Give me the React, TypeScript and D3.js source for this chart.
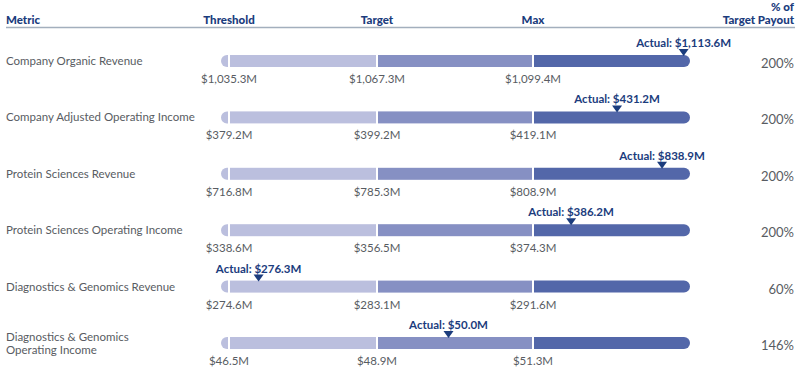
import React from "react";
import * as d3 from "d3";

// Goal rows, values in $M
const metrics = [
  ["Company Organic Revenue"],
  ["Company Adjusted Operating Income"],
  ["Protein Sciences Revenue"],
  ["Protein Sciences Operating Income"],
  ["Diagnostics & Genomics Revenue"],
  ["Diagnostics & Genomics", "Operating Income"],
];
const thresholds = [1035.3, 379.2, 716.8, 338.6, 274.6, 46.5];
const targets = [1067.3, 399.2, 785.3, 356.5, 283.1, 48.9];
const maxes = [1099.4, 419.1, 808.9, 374.3, 291.6, 51.3];
// value at the right end of each bar
const barEnds = [1114.2, 441.7, 845.4, 423.3, 300.1, 53.7];
const actuals = [1113.6, 431.2, 838.9, 386.2, 276.3, 50.0];
const payouts = ["200%", "200%", "200%", "200%", "60%", "146%"];
const columnHeads = ["Threshold", "Target", "Max"];

const W = 800;
const H = 368;
const FONT = "Lato, 'Open Sans', sans-serif";
const NAVY = "#1b3c7d";
const GRAY = "#585c62";
const LIGHT = "#bbbfde";
const MID = "#8690c3";
const DARK = "#5367a9";

export default function App() {
  const stops = [229, 377, 533, 690];
  const barH = 12;
  const r = barH / 2;

  const rowY = d3
    .scalePoint<number>()
    .domain(d3.range(metrics.length))
    .range([61, 343]);

  const money = (v: number) => "$" + d3.format(",.1f")(v) + "M";

  return (
    <div style={{ position: "absolute", left: 0, top: 0 }}>
      <svg width={W} height={H} style={{ display: "block", fontFamily: FONT }}>
        {/* header */}
        <text x={6} y={24} fill={NAVY} fontSize={11.5} fontWeight={900}>
          Metric
        </text>
        {columnHeads.map((h, i) => (
          <text key={h} x={stops[i]} y={24} fill={NAVY} fontSize={11.5} fontWeight={900} textAnchor="middle">
            {h}
          </text>
        ))}
        <text x={794} y={11} fill={NAVY} fontSize={11.5} fontWeight={900} textAnchor="end">
          % of
        </text>
        <text x={794} y={24} fill={NAVY} fontSize={11.5} fontWeight={900} textAnchor="end">
          Target Payout
        </text>
        <line x1={6} x2={795} y1={27.5} y2={27.5} stroke="#a3afbd" strokeWidth={1.4} />

        {metrics.map((lines, i) => {
          const y = rowY(i) as number;
          const x = d3
            .scaleLinear()
            .domain([thresholds[i], targets[i], maxes[i], barEnds[i]])
            .range(stops);
          const top = y - r;
          const bot = y + r;
          const xt = x(thresholds[i]);
          const xg = x(targets[i]);
          const xm = x(maxes[i]);
          const xe = x(barEnds[i]);
          const xa = x(actuals[i]);
          const capPath = `M${xt - 1},${top} H${xt - 2} A${r},${r} 0 0 0 ${xt - 2},${bot} H${xt - 1} Z`;
          const endPath = `M${xm + 1},${top} H${xe - r} A${r},${r} 0 0 1 ${xe - r},${bot} H${xm + 1} Z`;
          const ticks = [thresholds[i], targets[i], maxes[i]];
          return (
            <g key={i}>
              {lines.length === 1 ? (
                <text x={6} y={y + 4} fill={GRAY} fontSize={11.5}>
                  {lines[0]}
                </text>
              ) : (
                <text x={6} y={y - 2} fill={GRAY} fontSize={11.5}>
                  {lines.map((l, k) => (
                    <tspan key={k} x={6} dy={k === 0 ? 0 : 13}>
                      {l}
                    </tspan>
                  ))}
                </text>
              )}

              <path d={capPath} fill={LIGHT} />
              <rect x={xt + 1} y={top} width={xg - xt - 2} height={barH} fill={LIGHT} />
              <rect x={xg + 1} y={top} width={xm - xg - 2} height={barH} fill={MID} />
              <path d={endPath} fill={DARK} />

              {ticks.map((t, k) => (
                <text key={k} x={x(t)} y={y + 22} fill={GRAY} fontSize={11.5} textAnchor="middle">
                  {money(t)}
                </text>
              ))}

              <path d={`M${xa - 5},${y - 12} L${xa + 5},${y - 12} L${xa},${y - 5} Z`} fill={NAVY} />
              <text x={xa} y={y - 14} fill={NAVY} fontSize={11.5} fontWeight={700} textAnchor="middle">
                {"Actual: " + money(actuals[i])}
              </text>

              <text x={794} y={y + 7} fill={GRAY} fontSize={13} textAnchor="end">
                {payouts[i]}
              </text>
            </g>
          );
        })}
      </svg>
    </div>
  );
}
